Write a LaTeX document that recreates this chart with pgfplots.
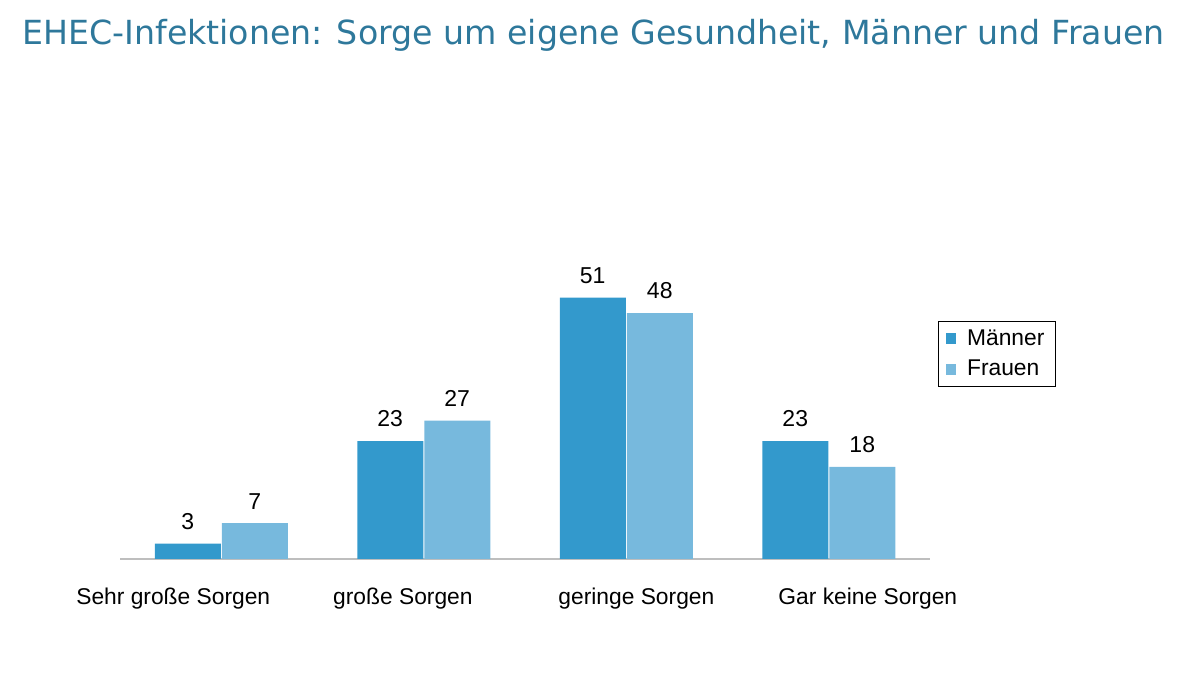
\documentclass[border=0pt]{standalone}
\usepackage{pgfplots}
\pgfplotsset{compat=1.18}
\usepackage{fontspec}
\setmainfont{Liberation Sans}
\newfontfamily\titlefont{DejaVu Sans}
\definecolor{maenner}{RGB}{51,153,204}
\definecolor{frauen}{RGB}{119,185,221}
\definecolor{titel}{RGB}{46,120,155}
\definecolor{achse}{RGB}{190,190,190}
\begin{document}
\begin{tikzpicture}
\path[use as bounding box] (0,0) rectangle (600pt,337.5pt);
\node[anchor=base west, inner sep=0pt, text=titel] at (11pt,315pt)
  {\titlefont\fontsize{16.6}{19}\selectfont EHEC-Infektionen: Sorge um eigene Gesundheit, Männer und Frauen};
\begin{axis}[
    at={(60pt,58pt)}, anchor=south west,
    scale only axis,
    width=405pt, height=205pt,
    xmin=-0.5, xmax=3.5,
    ymin=0, ymax=80,
    ybar=0.5pt,
    bar width=33pt,
    axis y line=none,
    axis x line=bottom,
    axis line style={-, achse, line width=1pt},
    xtick={-0.237,0.897,2.05,3.193},
    xticklabels={Sehr große Sorgen, große Sorgen, geringe Sorgen, Gar keine Sorgen},
    major tick length=0pt,
    xticklabel style={yshift=-11pt, font=\fontsize{11.4}{13}\selectfont},
    nodes near coords,
    every node near coord/.append style={yshift=3.5pt, font=\fontsize{11.5}{13}\selectfont, text=black},
    /pgf/number format/assume math mode=true,
    legend style={at={(1.01,0.5)}, anchor=west, draw=black, line width=0.6pt,
      font=\fontsize{11.4}{13}\selectfont, inner xsep=3.5pt, inner ysep=2pt, row sep=2pt,
      /tikz/every odd column/.append style={column sep=3.5pt}},
    legend cell align=left,
    legend image code/.code={\fill[#1] (0pt,-2.6pt) rectangle (5.2pt,2.6pt);},
  ]
  \addplot[fill=maenner, draw=none] coordinates {(0,3) (1,23) (2,51) (3,23)};
  \addplot[fill=frauen, draw=none] coordinates {(0,7) (1,27) (2,48) (3,18)};
  \legend{Männer, Frauen}
\end{axis}
\end{tikzpicture}
\end{document}
